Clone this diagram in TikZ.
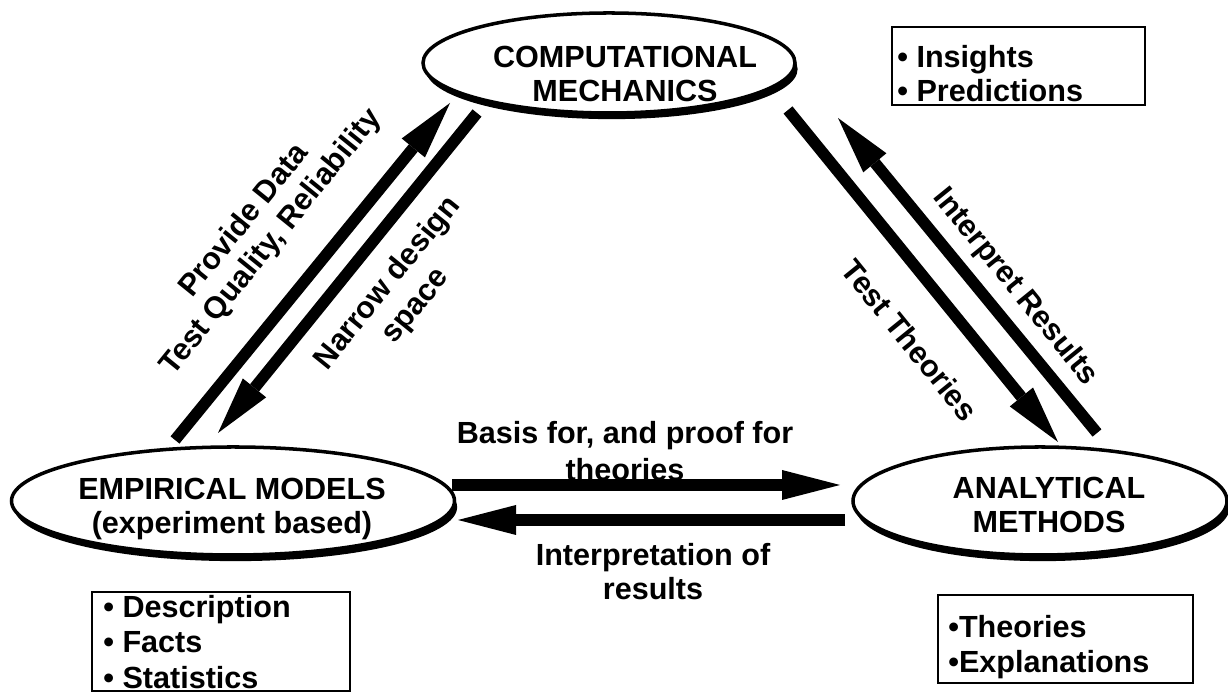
\documentclass[tikz,border=0pt]{standalone}
\usepackage{fontspec}
\setmainfont{Liberation Sans}
\usetikzlibrary{shapes.geometric,arrows.meta,shadows}

\tikzset{
	oval/.style={ellipse, draw, line width=2pt, fill=white, inner sep=0pt,
		drop shadow={shadow xshift=1.5pt, shadow yshift=-3.5pt, fill=black, opacity=1}},
	caption/.style={font=\fontsize{17.4}{19.5}\selectfont\bfseries, align=center, inner sep=0pt},
	listbox/.style={draw, line width=1pt, inner sep=0pt},
	bigarrow/.style={line width=0.23cm, -{Triangle[length=1.16cm, width=0.6cm, line width=0pt]}}
}

\begin{document}
\begin{tikzpicture}
	\useasboundingbox (0,0) rectangle (24.56,13.84);

	\foreach \x/\y/\w/\h/\name in {
		12.18/12.58/7.44/2.0/comp,
		4.66/3.82/8.86/2.16/emp,
		20.8/3.82/7.48/2.16/ana}
	{
		\node [oval, minimum width=\w cm, minimum height=\h cm] at (\x,\y) (\name) {};
	}
	\node [caption] at (12.5,12.36) (comptext) {COMPUTATIONAL\\MECHANICS};
	\node [caption] at (4.64,3.66) (emptext) {EMPIRICAL MODELS\\(experiment based)};
	\node [caption] at (20.98,3.74) (anatext) {ANALYTICAL\\METHODS};

	\foreach \x/\y/\w/\h/\name in {
		20.37/12.52/5.06/1.56/insbox,
		4.42/1.01/5.16/1.98/descbox,
		21.31/1.06/5.1/1.76/theobox}
	{
		\node [listbox, minimum width=\w cm, minimum height=\h cm] at (\x,\y) (\name) {};
	}
	\node [caption, align=left, anchor=west] at (17.94,12.37) (ins) {• Insights\\• Predictions};
	\node [caption, align=left, anchor=west] at (2.06,1.0) (desc) {• Description\\[0.5pt]• Facts\\[0.5pt]• Statistics};
	\node [caption, align=left, anchor=west] at (18.96,0.89) (theo) {•Theories\\[0.5pt]•Explanations};

	\node [caption, rotate=51] at (5.16,9.2) (provide) {Provide Data\\Test Quality, Reliability};
	\node [caption, rotate=51] at (8.04,7.94) (narrow) {Narrow design\\[1pt]space};
	\node [caption, rotate=-51] at (20.3,8.1) (interpret) {Interpret Results};
	\node [caption, rotate=-51] at (18.2,7.04) (testth) {Test Theories};
	\node [caption] at (12.5,4.81) (basis) {Basis for, and proof for\\[1.5pt]theories};
	\node [caption] at (13.06,2.41) (interp) {Interpretation of\\results};

	\draw [bigarrow] ([shift={(-1.16,0.105)}]emp.north) -- ([shift={(-3.18,0.235)}]comp.south);
	\draw [bigarrow] ([shift={(-2.64,0.035)}]comp.south) -- ([shift={(-0.30,0.245)}]emp.north);
	\draw [bigarrow] ([shift={(3.58,0.095)}]comp.south) -- ([shift={(0.36,0.065)}]ana.north);
	\draw [bigarrow] ([shift={(1.14,0.245)}]ana.north) -- ([shift={(4.58,-0.065)}]comp.south);
	\draw [bigarrow] ([shift={(-0.085,0.32)}]emp.east) -- ([shift={(-0.225,0.32)}]ana.west);
	\draw [bigarrow] ([shift={(-0.125,-0.38)}]ana.west) -- ([shift={(0.035,-0.38)}]emp.east);
\end{tikzpicture}
\end{document}
